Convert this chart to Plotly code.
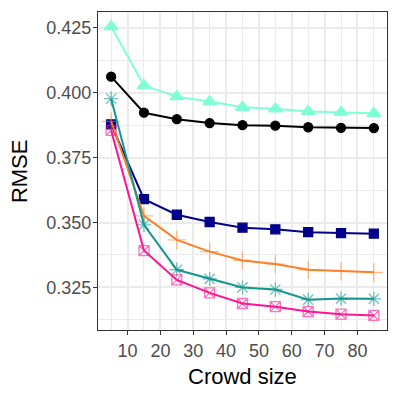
import plotly.graph_objects as go

crowd_size = [5, 15, 25, 35, 45, 55, 65, 75, 85]

rmse_aqua = [0.4255, 0.4028, 0.3985, 0.3966, 0.3944, 0.3938, 0.3928, 0.3925, 0.3921]
rmse_black = [0.4062, 0.3923, 0.3898, 0.3883, 0.3875, 0.3873, 0.3867, 0.3865, 0.3864]
rmse_navy = [0.3878, 0.3590, 0.3530, 0.3502, 0.3480, 0.3474, 0.3463, 0.3459, 0.3457]
rmse_orange = [0.3890, 0.3526, 0.3433, 0.3388, 0.3354, 0.3340, 0.3318, 0.3313, 0.3308]
rmse_teal = [0.3977, 0.3491, 0.3318, 0.3283, 0.3250, 0.3242, 0.3203, 0.3207, 0.3206]
rmse_pink = [0.3855, 0.3392, 0.3279, 0.3229, 0.3188, 0.3176, 0.3157, 0.3147, 0.3142]

x_ticks = [10, 20, 30, 40, 50, 60, 70, 80]
y_ticks = [0.325, 0.350, 0.375, 0.400, 0.425]
y_tick_text = ["0.325", "0.350", "0.375", "0.400", "0.425"]

# (values, line colour, marker symbol, marker colour, marker size)
series = [
    (rmse_aqua, "#7FFFD4", "triangle-up", "#7FFFD4", 12),
    (rmse_black, "#000000", "circle", "#000000", 9),
    (rmse_navy, "#00008B", "square", "#00008B", 9),
    (rmse_orange, "#FF7F24", "cross-thin-open", "rgba(255,127,36,0.55)", 13),
    (rmse_teal, "#119690", "asterisk-open", "rgba(17,150,144,0.6)", 12),
    (rmse_pink, "#FF1493", "square-x-open", "rgba(255,20,147,0.6)", 10),
]

fig = go.Figure()
for vals, lc, sym, mc, ms in series:
    fig.add_trace(go.Scatter(
        x=crowd_size, y=vals, mode="lines+markers",
        line=dict(color=lc, width=2),
        marker=dict(symbol=sym, size=ms, color=mc,
                    line=dict(color=mc, width=1.3)),
        showlegend=False,
    ))

axis_common = dict(
    showline=True, linecolor="#333333", linewidth=1.1, mirror=True,
    ticks="outside", ticklen=4, tickwidth=1.1, tickcolor="#333333",
    gridcolor="#EBEBEB", gridwidth=1.6, zeroline=False,
    tickfont=dict(family="Liberation Sans, Arial", size=18, color="#4D4D4D"),
)

fig.update_xaxes(
    range=[1, 89], tickvals=x_ticks,
    minor=dict(tickvals=[5, 15, 25, 35, 45, 55, 65, 75, 85], showgrid=True,
               gridcolor="#EBEBEB", gridwidth=0.8, ticklen=0),
    ticklabelstandoff=0,
    **axis_common,
)
fig.update_yaxes(
    range=[0.3086, 0.4311], tickvals=y_ticks, ticktext=y_tick_text,
    minor=dict(tickvals=[0.3125, 0.3375, 0.3625, 0.3875, 0.4125], showgrid=True,
               gridcolor="#EBEBEB", gridwidth=0.8, ticklen=0),
    ticklabelstandoff=-2,
    **axis_common,
)

title_font = dict(family="Liberation Sans, Arial", size=22, color="#000000")
fig.add_annotation(x=0.5, y=-0.147, xref="paper", yref="paper",
                   text="Crowd size", showarrow=False, font=title_font,
                   xanchor="center", yanchor="middle")
fig.add_annotation(x=-0.273, y=0.5, xref="paper", yref="paper",
                   text="RMSE", showarrow=False, font=title_font, textangle=-90,
                   xanchor="center", yanchor="middle")

# page body adds an 8px offset, so the figure is 391px and fills the window
fig.update_layout(
    width=391, height=391,
    margin=dict(l=90, r=12, t=4, b=69),
    plot_bgcolor="white", paper_bgcolor="white",
)

fig.write_html("out.html")
